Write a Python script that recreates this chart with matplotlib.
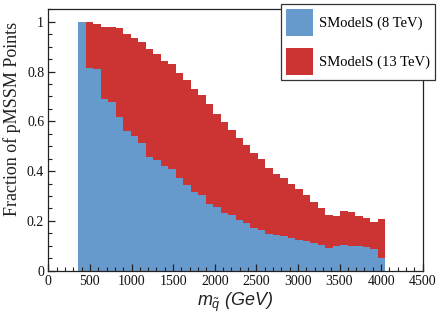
import numpy as np
import matplotlib
matplotlib.use("Agg")
import matplotlib.pyplot as plt
from matplotlib.patches import Patch
from matplotlib.ticker import MultipleLocator

plt.rcParams['mathtext.fontset'] = 'custom'
plt.rcParams['mathtext.it'] = 'Liberation Sans:italic'
plt.rcParams['mathtext.rm'] = 'Liberation Sans'

# Histogram binning (GeV)
bin_start = 360
bin_width = 90
n_bins = 41

frac_13tev = [1.0, 1.0, 0.991, 0.977, 0.980, 0.973, 0.951, 0.936, 0.920, 0.889,
              0.869, 0.842, 0.829, 0.795, 0.766, 0.728, 0.706, 0.668, 0.631, 0.598,
              0.564, 0.532, 0.505, 0.471, 0.449, 0.411, 0.390, 0.372, 0.349, 0.328,
              0.304, 0.277, 0.251, 0.224, 0.220, 0.240, 0.235, 0.220, 0.212, 0.194,
              0.208]
frac_8tev = [1.0, 0.815, 0.809, 0.689, 0.676, 0.619, 0.562, 0.542, 0.514, 0.458,
             0.445, 0.422, 0.407, 0.371, 0.344, 0.317, 0.303, 0.268, 0.257, 0.231,
             0.225, 0.202, 0.190, 0.173, 0.163, 0.147, 0.145, 0.141, 0.130, 0.122,
             0.119, 0.111, 0.103, 0.090, 0.099, 0.103, 0.101, 0.098, 0.097, 0.086,
             0.050]
labels = ["SModelS (8 TeV)", "SModelS (13 TeV)"]
xtick_vals = [0, 500, 1000, 1500, 2000, 2500, 3000, 3500, 4000, 4500]
ytick_vals = [0, 0.2, 0.4, 0.6, 0.8, 1.0]
ytick_labels = ["0", "0.2", "0.4", "0.6", "0.8", "1"]

blue = "#6699cc"
red = "#cc3333"

edges = bin_start + bin_width * np.arange(n_bins + 1)

fig = plt.figure(figsize=(4.45, 3.19), dpi=100)
ax = fig.add_axes([48.3 / 445, 48.3 / 319, (422.7 - 48.3) / 445, (270.7 - 9.3) / 319])

ax.stairs(frac_13tev, edges, fill=True, color=red, linewidth=0)
ax.stairs(frac_8tev, edges, fill=True, color=blue, linewidth=0)

ax.set_xlim(0, 4500)
ax.set_ylim(0, 1.05)
ax.set_xticks(xtick_vals)
ax.set_xticklabels([str(v) for v in xtick_vals])
ax.set_yticks(ytick_vals)
ax.set_yticklabels(ytick_labels)
ax.xaxis.set_minor_locator(MultipleLocator(100))
ax.yaxis.set_minor_locator(MultipleLocator(0.05))
ax.tick_params(which='both', direction='in', top=False, right=False, colors='#222222')
ax.tick_params(which='major', length=5.2, width=0.9, pad=3)
ax.tick_params(which='minor', length=3.2, width=0.8)
for lab in ax.get_xticklabels() + ax.get_yticklabels():
    lab.set_fontfamily('Liberation Serif')
    lab.set_fontsize(10)
    lab.set_color('#111111')
for s in ax.spines.values():
    s.set_linewidth(0.9)
    s.set_color('#222222')

ax.set_ylabel("Fraction of pMSSM Points", fontfamily='Liberation Serif', fontsize=13,
              color='#222222')
ax.yaxis.set_label_coords(-0.074, 0.58)
ax.set_xlabel(r"$m_{\tilde{q}}$ (GeV)", fontfamily='Liberation Sans', fontstyle='italic',
              fontsize=13, color='#222222', labelpad=2)

handles = [Patch(facecolor=blue, edgecolor='none'), Patch(facecolor=red, edgecolor='none')]
leg = fig.legend(handles, labels, loc='upper left',
                 bbox_to_anchor=(280.7 / 445, 1 - 4 / 319),
                 bbox_transform=fig.transFigure,
                 prop={'family': 'Liberation Serif', 'size': 10.5},
                 handlelength=1.85, handleheight=2.45, handletextpad=0.45,
                 labelspacing=0.85, borderpad=0.35, borderaxespad=0,
                 fancybox=False, framealpha=1, edgecolor='#333333')
leg.get_frame().set_linewidth(0.9)

fig.savefig("out.png", dpi=100)
